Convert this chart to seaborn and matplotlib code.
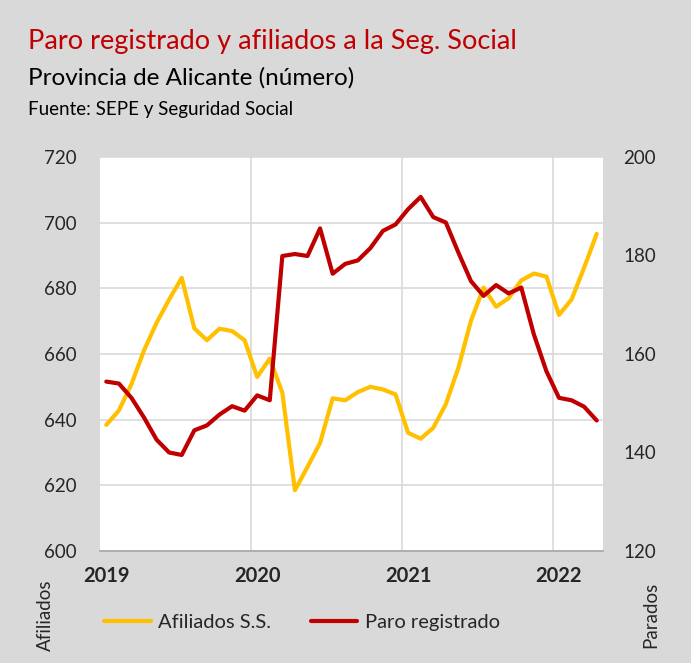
import matplotlib
matplotlib.use("Agg")
import matplotlib.pyplot as plt
import seaborn as sns
import pandas as pd
import numpy as np

# ---- data (Jan 2019 .. Apr 2022, monthly) ----
months = pd.date_range("2019-01-01", periods=40, freq="MS").strftime("%Y-%m").tolist()
afiliados = [638.4, 642.8, 650.8, 661.1, 669.5, 676.6, 683.2, 667.8, 664.2, 667.7,
             667.0, 664.2, 653.0, 658.6, 648.2, 618.5, 625.6, 632.9, 646.5, 645.9,
             648.4, 650.0, 649.2, 647.7, 636.0, 634.2, 637.5, 644.7, 655.8, 670.1,
             680.2, 674.4, 677.0, 682.4, 684.5, 683.6, 671.9, 676.6, 686.3, 696.6]
parados = [154.4, 154.0, 151.1, 147.1, 142.6, 140.0, 139.5, 144.5, 145.5, 147.7,
           149.4, 148.5, 151.6, 150.6, 179.9, 180.3, 179.9, 185.5, 176.3, 178.3,
           179.0, 181.5, 185.0, 186.3, 189.4, 191.9, 187.8, 186.7, 180.6, 174.8,
           171.8, 174.0, 172.3, 173.5, 164.0, 156.5, 151.1, 150.6, 149.3, 146.5]
year_labels = ["2019", "2020", "2021", "2022"]
left_ticks = [600, 620, 640, 660, 680, 700, 720]
right_ticks = [120, 140, 160, 180, 200]

YELLOW = "#ffc000"
RED = "#c00000"
BG = "#d9d9d9"

df = pd.DataFrame({"mes": months, "idx": np.arange(len(months)),
                   "afiliados": afiliados, "parados": parados})

sns.set_style("white")
plt.rcParams["font.family"] = ["Lato", "DejaVu Sans"]

fig = plt.figure(figsize=(6.91, 6.63), dpi=100, facecolor=BG)
W, H = 691, 663
ax = fig.add_axes([100 / W, 1 - 551 / H, 503 / W, 394 / H])
ax.set_facecolor("white")
ax2 = ax.twinx()

sns.lineplot(data=df, x="idx", y="afiliados", ax=ax, color=YELLOW, lw=3.0,
             label="Afiliados S.S.", legend=False, zorder=3)
sns.lineplot(data=df, x="idx", y="parados", ax=ax2, color=RED, lw=3.0,
             label="Paro registrado", legend=False, zorder=3)

ax.set_xlim(-0.5, len(months) - 0.5)
ax.set_ylim(600, 720)
ax2.set_ylim(120, 200)
ax.set_yticks(left_ticks)
ax2.set_yticks(right_ticks)
ax.set_xticks([0, 12, 24, 36])
ax.set_xticklabels(year_labels, fontweight="bold", fontsize=14.5)
ax.set_xticks([11.5, 23.5, 35.5], minor=True)
ax.tick_params(axis="x", which="both", length=0, pad=11)
ax.tick_params(axis="y", length=0, labelsize=13.5, pad=16.5)
ax2.tick_params(axis="y", length=0, labelsize=13.5, pad=14.5)
ax.grid(axis="y", color="#d9d9d9", lw=1.2)
ax.grid(axis="x", which="minor", color="#d9d9d9", lw=1.2)
ax.grid(axis="x", which="major", visible=False)
ax.set_axisbelow(True)
for sp in ["top", "left", "right"]:
    ax.spines[sp].set_visible(False)
    ax2.spines[sp].set_visible(False)
ax.spines["bottom"].set_color("#a6a6a6")
ax.spines["bottom"].set_linewidth(1.2)
ax2.spines["bottom"].set_visible(False)
ax.set_xlabel("")
ax.set_ylabel("")
ax2.set_ylabel("")

# titles
fig.text(28 / W, 1 - 42 / H, "Paro registrado y afiliados a la Seg. Social",
         color=RED, fontsize=19.5, va="center", ha="left")
fig.text(28 / W, 1 - 78 / H, "Provincia de Alicante (número)",
         color="black", fontsize=17.5, va="center", ha="left")
fig.text(28 / W, 1 - 110 / H, "Fuente: SEPE y Seguridad Social",
         color="black", fontsize=13.5, va="center", ha="left")

# axis titles
fig.text(45 / W, 1 - 615 / H, "Afiliados", rotation=90, fontsize=13.5,
         va="center", ha="center")
fig.text(651 / W, 1 - 615 / H, "Parados", rotation=90, fontsize=13.5,
         va="center", ha="center")

# legend
h1, l1 = ax.get_legend_handles_labels()
h2, l2 = ax2.get_legend_handles_labels()
leg = fig.legend(h1 + h2, l1 + l2, loc="center", bbox_to_anchor=(302 / W, 1 - 622 / H),
                 ncol=2, frameon=False, fontsize=14.5, handlelength=2.3,
                 columnspacing=2.0, handletextpad=0.35)

fig.savefig("out.png", dpi=100, facecolor=BG)
